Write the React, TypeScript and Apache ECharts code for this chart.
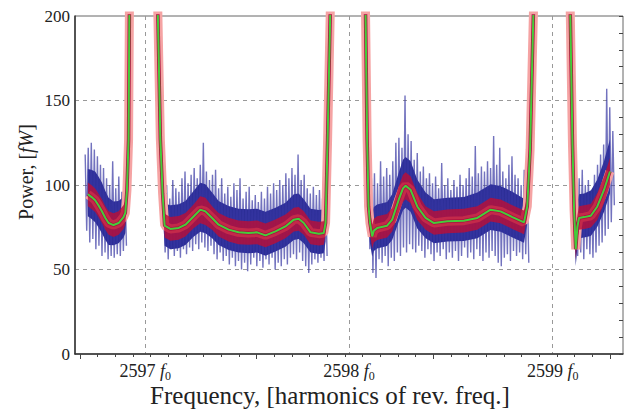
import React, { useEffect, useRef } from "react";
import * as echarts from "echarts";

// ---------- data ----------
// Axis ranges
const xMin = 2596.655;
const xMax = 2599.345;
const yMin = 0;
const yMax = 200;
const yTicks = [0, 50, 100, 150, 200];

// Smoothed (green) curve, four segments between the off-scale harmonic peaks
const seg1Freq = [2596.718, 2596.735, 2596.754, 2596.770, 2596.787, 2596.804, 2596.820, 2596.844, 2596.869, 2596.893, 2596.902, 2596.910, 2596.918];
const seg1Green = [94.5, 93, 91, 88, 84.5, 80.5, 77.5, 76.3, 77.5, 81, 83.5, 97, 127];
const seg1Std = [7, 7, 7, 7, 7, 7, 7, 7, 7, 7, 7, 6, 6];
const seg1CoreUp = [15, 16, 17, 17, 17, 16, 15, 14, 13, 12, 12, 10, 8];
const seg1CoreDown = [13, 13, 13, 13, 13, 13, 13, 12, 12, 12, 12, 10, 8];

const seg2Freq = [2597.074, 2597.085, 2597.095, 2597.123, 2597.164, 2597.197, 2597.237, 2597.270, 2597.295, 2597.328, 2597.360, 2597.409, 2597.458, 2597.507, 2597.549, 2597.590, 2597.639, 2597.688, 2597.729, 2597.753, 2597.778, 2597.811, 2597.852, 2597.876, 2597.885, 2597.889, 2597.895];
const seg2Green = [127, 95, 76, 74, 74.6, 76.5, 81.4, 85.4, 84.4, 80.5, 76.5, 73.6, 72, 71.6, 72, 70.2, 72.6, 75.5, 79.5, 80, 77.5, 72, 71.2, 71.6, 77.5, 97, 127];
const seg2Std = [6, 6, 7, 7, 7, 7, 7, 8, 8, 7, 7, 7, 7, 7, 7, 7, 7, 7, 7, 7, 7, 7, 7, 7, 7, 6, 6];
const seg2CoreUp = [8, 10, 13, 14, 14, 14, 15, 16, 16, 15, 14, 14, 14, 14, 14, 14, 14, 14, 15, 15, 14, 14, 14, 14, 12, 10, 8];
const seg2CoreDown = [8, 10, 12, 12, 12, 12, 12, 13, 13, 12, 12, 12, 12, 12, 12, 12, 12, 12, 12, 12, 12, 12, 12, 12, 11, 10, 8];

const seg3Freq = [2598.089, 2598.096, 2598.103, 2598.114, 2598.122, 2598.138, 2598.187, 2598.212, 2598.244, 2598.265, 2598.278, 2598.302, 2598.335, 2598.376, 2598.417, 2598.483, 2598.564, 2598.630, 2598.695, 2598.744, 2598.802, 2598.859, 2598.875, 2598.889];
const seg3Green = [127, 87.3, 77.5, 69.6, 73, 74.5, 75.9, 79.5, 91.3, 98, 99.6, 97.2, 87.3, 80.5, 77.5, 78.5, 78.9, 80.5, 85.4, 84.4, 81, 77.9, 87.3, 121];
const seg3Std = [6, 6, 7, 7, 7, 7, 7, 7, 8, 8, 8, 8, 8, 7, 7, 7, 7, 7, 7, 7, 7, 7, 6, 6];
const seg3CoreUp = [8, 10, 13, 14, 14, 14, 14, 15, 16, 17, 17, 17, 16, 15, 14, 14, 14, 15, 15, 15, 15, 14, 12, 8];
const seg3CoreDown = [8, 10, 12, 12, 12, 12, 12, 12, 13, 13, 13, 13, 13, 12, 12, 12, 12, 12, 12, 12, 12, 12, 10, 8];

const seg4Freq = [2599.097, 2599.105, 2599.113, 2599.121, 2599.129, 2599.154, 2599.187, 2599.219, 2599.252, 2599.281];
const seg4Green = [124, 85, 62, 75, 80.5, 81, 81.8, 87.3, 97.2, 108];
const seg4Std = [6, 6, 6, 7, 7, 7, 7, 8, 8, 8];
const seg4CoreUp = [8, 10, 12, 14, 14, 14, 15, 16, 17, 19];
const seg4CoreDown = [8, 10, 10, 12, 12, 12, 12, 12, 13, 13];

// Frequencies where the curve leaves the top of the plot (peaks are off-scale)
const peakEdges = [
  [2596.925, 2597.052],
  [2597.918, 2598.075],
  [2598.917, 2599.078],
];
const offScale = 260;

// Raw (blue) noisy trace: spike tops and bottoms, sampled every 0.015
const rawStep = 0.015;
const raw1Start = 2596.705;
const raw1Hi = [118, 122, 125, 121, 117, 112, 110, 104, 100, 114, 98, 105, 96, 100];
const raw1Lo = [73, 66, 68, 62, 64, 58, 60, 56, 58, 57, 59, 58, 61, 64];

const raw2Start = 2597.09;
const raw2Hi = [95, 100, 92, 103, 98, 96, 104, 108, 101, 106, 110, 104, 112, 125, 108, 103, 106, 109, 98, 104, 95, 99, 93, 101, 97, 104, 92, 96, 99, 91, 94, 90, 96, 92, 99, 95, 101, 97, 103, 100, 107, 104, 110, 106, 118, 103, 106, 98, 95, 99, 94, 97, 92, 100];
const raw2Lo = [60, 56, 62, 58, 61, 57, 62, 59, 63, 61, 65, 62, 66, 63, 61, 64, 59, 56, 60, 55, 58, 53, 57, 52, 55, 50, 54, 49, 53, 57, 52, 55, 51, 56, 53, 57, 50, 54, 52, 56, 53, 57, 59, 56, 60, 55, 52, 48, 53, 56, 54, 57, 55, 58];

const raw3Start = 2598.095;
const raw3Hi = [110, 104, 107, 101, 114, 105, 110, 106, 114, 125, 128, 122, 153, 130, 126, 115, 119, 108, 111, 104, 107, 101, 105, 98, 113, 100, 104, 97, 103, 99, 106, 100, 104, 110, 105, 123, 107, 111, 108, 114, 110, 129, 112, 122, 108, 104, 112, 117, 106, 104, 100, 109, 102];
const raw3Lo = [62, 48, 45, 56, 54, 58, 52, 57, 55, 60, 58, 63, 60, 65, 62, 60, 64, 61, 57, 62, 59, 55, 60, 58, 62, 56, 60, 57, 61, 55, 58, 63, 57, 60, 56, 62, 58, 55, 60, 57, 61, 58, 54, 52, 57, 59, 55, 61, 58, 60, 56, 59, 54];

const raw4Start = 2599.1;
const raw4Hi = [110, 98, 104, 109, 100, 103, 97, 106, 112, 118, 124, 157, 146, 132];
const raw4Lo = [68, 58, 60, 56, 62, 59, 57, 60, 64, 66, 70, 74, 78, 88];

// ---------- build library inputs ----------
const segments = [
  { f: seg1Freq, v: seg1Green, s: seg1Std, cu: seg1CoreUp, cd: seg1CoreDown },
  { f: seg2Freq, v: seg2Green, s: seg2Std, cu: seg2CoreUp, cd: seg2CoreDown },
  { f: seg3Freq, v: seg3Green, s: seg3Std, cu: seg3CoreUp, cd: seg3CoreDown },
  { f: seg4Freq, v: seg4Green, s: seg4Std, cu: seg4CoreUp, cd: seg4CoreDown },
];

const curveData: any[] = [];
segments.forEach((seg, k) => {
  seg.f.forEach((f, i) => curveData.push([f, seg.v[i]]));
  if (k < peakEdges.length) {
    curveData.push([peakEdges[k][0], offScale]);
    curveData.push([peakEdges[k][1], offScale]);
  }
});

const rawSegs = [
  { start: raw1Start, hi: raw1Hi, lo: raw1Lo },
  { start: raw2Start, hi: raw2Hi, lo: raw2Lo },
  { start: raw3Start, hi: raw3Hi, lo: raw3Lo },
  { start: raw4Start, hi: raw4Hi, lo: raw4Lo },
];
const rawData: any[] = [];
rawSegs.forEach((r, k) => {
  r.hi.forEach((h, i) => {
    const f = r.start + i * rawStep;
    rawData.push([f, h]);
    rawData.push([f + rawStep / 2, r.lo[i]]);
  });
  if (k < rawSegs.length - 1) rawData.push([null, null]);
});

const SERIF = '"Liberation Serif", "Times New Roman", serif';

function bandSeries(name: string, upKey: "s" | "cu", downKey: "s" | "cd", fill: string, z: number) {
  return {
    name,
    type: "custom",
    xAxisIndex: 0,
    yAxisIndex: 0,
    clip: true,
    data: segments.map((seg, i) => [seg.f[0], seg.v[0], i]),
    encode: { x: 0, y: 1 },
    renderItem: (params: any, api: any) => {
      const seg: any = segments[params.dataIndex];
      const up = seg.f.map((f: number, i: number) => api.coord([f, seg.v[i] + seg[upKey][i]]));
      const down = seg.f
        .map((f: number, i: number) => api.coord([f, seg.v[i] - seg[downKey][i]]))
        .reverse();
      return {
        type: "polygon",
        shape: { points: up.concat(down) },
        style: { fill, stroke: "none" },
      };
    },
    z,
  };
}

export default function App() {
  const ref = useRef<HTMLDivElement>(null);

  useEffect(() => {
    if (!ref.current) return;
    const chart = echarts.init(ref.current, undefined, { renderer: "svg" });

    const option: any = {
      animation: false,
      backgroundColor: "#ffffff",
      grid: [
        {
          left: 75,
          right: 2,
          top: 16,
          bottom: 55,
          show: true,
          borderColor: "#666",
          borderWidth: 1,
          backgroundColor: "transparent",
        },
        { left: 80, width: 530, top: 16, bottom: 55 },
      ],
      xAxis: [
        {
          type: "value",
          gridIndex: 0,
          min: xMin,
          max: xMax,
          splitNumber: 3,
          axisLine: { show: true, lineStyle: { color: "#333", width: 1.5 } },
          axisTick: { show: false },
          axisLabel: {
            showMinLabel: false,
            showMaxLabel: false,
            margin: 6,
            color: "#222",
            fontFamily: SERIF,
            fontSize: 18,
            formatter: (v: number) =>
              Math.abs(v - Math.round(v)) < 1e-6 ? `{n|${Math.round(v)}} {f|f}{s|0}` : "",
            rich: {
              n: { fontFamily: SERIF, fontSize: 18, color: "#222" },
              f: { fontFamily: SERIF, fontSize: 18, fontStyle: "italic", color: "#222" },
              s: { fontFamily: SERIF, fontSize: 12, color: "#222", padding: [10, 0, 0, 0] },
            },
          },
          splitLine: {
            show: true,
            showMinLine: false,
            showMaxLine: false,
            lineStyle: { color: "#999", type: [4, 4], width: 1 },
          },
        },
        {
          type: "value",
          gridIndex: 1,
          position: "top",
          min: 0,
          max: 30,
          interval: 10,
          axisLine: { show: false },
          axisTick: { show: true, inside: true, length: 5, lineStyle: { color: "#444" } },
          minorTick: { show: true, splitNumber: 10, length: 3, lineStyle: { color: "#444" } },
          axisLabel: { show: false },
          splitLine: { show: false },
        },
      ],
      yAxis: [
        {
          type: "value",
          gridIndex: 0,
          min: yMin,
          max: yMax,
          interval: 50,
          axisLine: { show: true, lineStyle: { color: "#333", width: 1.5 } },
          axisTick: { show: false },
          axisLabel: {
            margin: 5,
            color: "#222",
            fontFamily: SERIF,
            fontSize: 17,
            formatter: (v: number) => (yTicks.includes(v) ? String(v) : ""),
          },
          splitLine: {
            show: true,
            showMinLine: false,
            showMaxLine: false,
            lineStyle: { color: "#999", type: [4, 4], width: 1 },
          },
        },
        {
          type: "value",
          gridIndex: 0,
          position: "right",
          min: yMin,
          max: yMax,
          interval: 10,
          axisLine: { show: false },
          axisTick: { show: true, inside: true, length: 4, lineStyle: { color: "#444" } },
          axisLabel: { show: false },
          splitLine: { show: false },
        },
        {
          type: "value",
          gridIndex: 1,
          min: 0,
          max: 1,
          show: false,
        },
      ],
      series: [
        {
          name: "raw",
          type: "line",
          xAxisIndex: 0,
          yAxisIndex: 0,
          data: rawData,
          showSymbol: false,
          connectNulls: false,
          clip: true,
          lineStyle: { color: "#3636a2", width: 1.4, opacity: 0.7 },
          z: 1,
        },
        bandSeries("rawCore", "cu", "cd", "#2c2e96", 1),
        {
          name: "halo",
          type: "line",
          xAxisIndex: 0,
          yAxisIndex: 0,
          data: curveData,
          showSymbol: false,
          clip: true,
          lineStyle: { color: "#f5a3a3", width: 9 },
          z: 2,
        },
        bandSeries("band", "s", "s", "rgba(185, 15, 55, 0.82)", 3),
        {
          name: "core",
          type: "line",
          xAxisIndex: 0,
          yAxisIndex: 0,
          data: curveData,
          showSymbol: false,
          clip: true,
          lineStyle: { color: "#a8123f", width: 3.5 },
          z: 4,
        },
        {
          name: "smooth",
          type: "line",
          xAxisIndex: 0,
          yAxisIndex: 0,
          data: curveData,
          showSymbol: false,
          clip: true,
          lineStyle: { color: "#45cc3a", width: 2 },
          z: 5,
        },
      ],
      graphic: [
        {
          type: "text",
          x: 330,
          y: 395,
          style: {
            text: "Frequency, [harmonics of rev. freq.]",
            font: `25px ${SERIF}`,
            fill: "#222",
            align: "center",
            verticalAlign: "middle",
          },
        },
        {
          type: "text",
          x: 26,
          y: 172,
          rotation: Math.PI / 2,
          style: {
            text: "{a|Power, [}{b|fW}{a|]}",
            align: "center",
            verticalAlign: "middle",
            rich: {
              a: { fontFamily: SERIF, fontSize: 20, fill: "#222" },
              b: { fontFamily: SERIF, fontSize: 20, fontStyle: "italic", fill: "#222" },
            },
          },
        },
      ],
    };

    chart.setOption(option);
    return () => chart.dispose();
  }, []);

  return (
    <div
      ref={ref}
      style={{ position: "fixed", left: 0, top: 0, width: 625, height: 409, background: "#fff" }}
    />
  );
}
